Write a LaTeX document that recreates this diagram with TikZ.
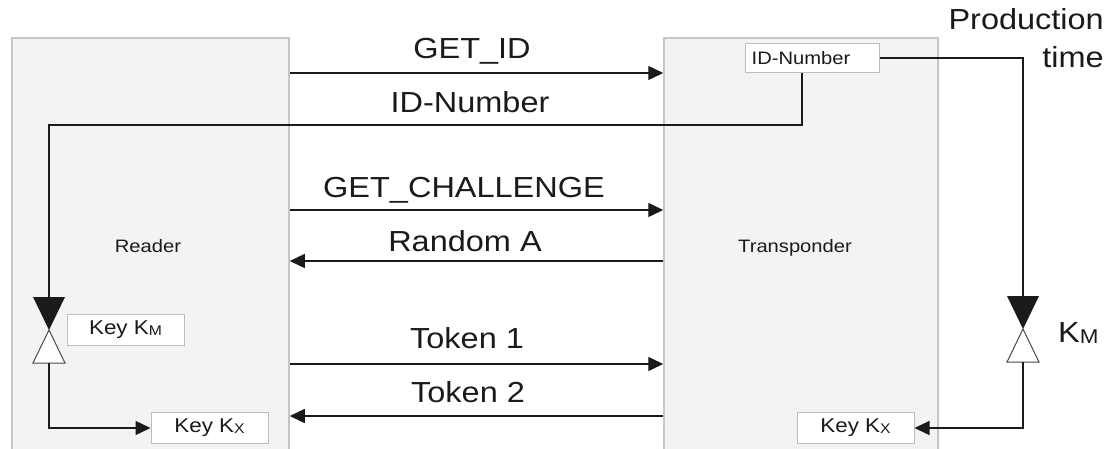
\documentclass[tikz,border=0pt]{standalone}
\usepackage{fontspec}
\setmainfont{Liberation Sans}
\usetikzlibrary{arrows.meta}
\definecolor{panel}{HTML}{F3F3F3}
\definecolor{panelline}{HTML}{C6C6C6}
\definecolor{tagline}{HTML}{BDBDBD}
\definecolor{ink}{HTML}{1A1A1A}
\newcommand{\wide}[1]{\scalebox{1.12}[1]{#1}}
\newcommand{\bigfont}{\fontsize{29}{35}\selectfont}
\newcommand{\smallfont}{\fontsize{18}{22}\selectfont}
\newcommand{\tagfont}{\fontsize{20}{24}\selectfont}
\newcommand{\subsm}[1]{\raisebox{-1pt}{\fontsize{14}{16}\selectfont #1}}
\newcommand{\subbig}[1]{\raisebox{-1pt}{\fontsize{20}{24}\selectfont #1}}

\begin{document}
\begin{tikzpicture}[x=1pt,y=-1pt,
  panelbox/.style={draw=panelline,line width=1.5pt,fill=panel,inner sep=0pt},
  tag/.style={draw=tagline,line width=1pt,fill=white,inner sep=0pt,
              minimum width=117pt,minimum height=31pt,font=\tagfont,text=ink},
  msglabel/.style={anchor=base,inner sep=0pt,font=\bigfont,text=ink},
  panellabel/.style={anchor=base,inner sep=0pt,font=\smallfont,text=ink},
  wire/.style={draw=ink,line width=1.4pt},
  msg/.style={wire,-{Triangle[length=15pt,width=14pt]}},
]
\useasboundingbox (0,0) rectangle (1119,448);

% the two parties
\node[panelbox,minimum width=277pt,minimum height=416pt] (reader) at (150.5,246) {};
\node[panelbox,minimum width=274pt,minimum height=416pt] (trans)  at (801,246) {};
\node[panellabel] (readertxt) at (148,252) {\wide{Reader}};
\node[panellabel] (transtxt)  at (795,252) {\wide{Transponder}};

% key storage tags
\node[tag,minimum width=134pt,minimum height=29pt,font=\smallfont] (idtag) at (812,58)
  {\wide{ID-Number}\hspace*{22pt}};
\node[tag] (kmtag) at (125.5,329.5) {\wide{Key K\subsm{M}}};
\node[tag] (lkx) at (209.5,428) {\wide{Key K\subsm{X}}};
\node[tag] (rkx) at (855.5,428) {\wide{Key K\subsm{X}}};

% message levels
\coordinate (y1) at (0,73);
\coordinate (y2) at (0,125);
\coordinate (y3) at (0,210);
\coordinate (y4) at (0,261);
\coordinate (y5) at (0,364);
\coordinate (y6) at (0,416);

\draw[msg] (reader.east |- y1) -- (trans.west |- y1);
\draw[msg] (reader.east |- y3) -- (trans.west |- y3);
\draw[msg] (trans.west |- y4) -- (reader.east |- y4);
\draw[msg] (reader.east |- y5) -- (trans.west |- y5);
\draw[msg] (trans.west |- y6) -- (reader.east |- y6);

\node[msglabel] (l1) at (472,58)  {\wide{GET\_ID}};
\node[msglabel] (l2) at (470,112) {\wide{ID-Number}};
\node[msglabel] (l3) at (464,197) {\wide{GET\_CHALLENGE}};
\node[msglabel] (l4) at (465,251) {\wide{Random A}};
\node[msglabel] (l5) at (467,348) {\wide{Token 1}};
\node[msglabel] (l6) at (468,402) {\wide{Token 2}};

% key derivation valves
\coordinate (lv) at (49,330);
\coordinate (rv) at (1023,329);
\coordinate (lvtop) at (49,297);
\coordinate (lvbase) at (49,363);
\coordinate (rvtop) at (1023,296);
\coordinate (rvbase) at (1023,362);
\coordinate (bend) at (49,125);
\coordinate (drop) at (802,73);

\foreach \v in {lv,rv}{
  \fill[ink] ([shift={(-16,-33)}]\v) -- ([shift={(16,-33)}]\v) -- (\v) -- cycle;
  \draw[draw=ink!80,line width=1pt,fill=white,line join=miter]
    (\v) -- ([shift={(16,33)}]\v) -- ([shift={(-16,33)}]\v) -- cycle;
}

% ID number read out by the reader
\draw[wire] (idtag.south -| drop) |- (bend) -- (lvtop);
% ID number used at production time
\draw[wire] (idtag.east) -| (rvtop);
% derived keys
\draw[msg] (lvbase) |- (lkx.west);
\draw[msg] (rvbase) |- (rkx.east);

\node[anchor=base west,inner sep=0pt,font=\bigfont,text=ink] (kmlabel) at (1058,342) {\wide{K\subbig{M}}};
\node[anchor=base east,inner sep=0pt,font=\bigfont,text=ink] (prod) at (1104,29) {\wide{Production}};
\node[anchor=base east,inner sep=0pt,font=\bigfont,text=ink] (ptime) at (1104,67) {\wide{time}};
\end{tikzpicture}
\end{document}
